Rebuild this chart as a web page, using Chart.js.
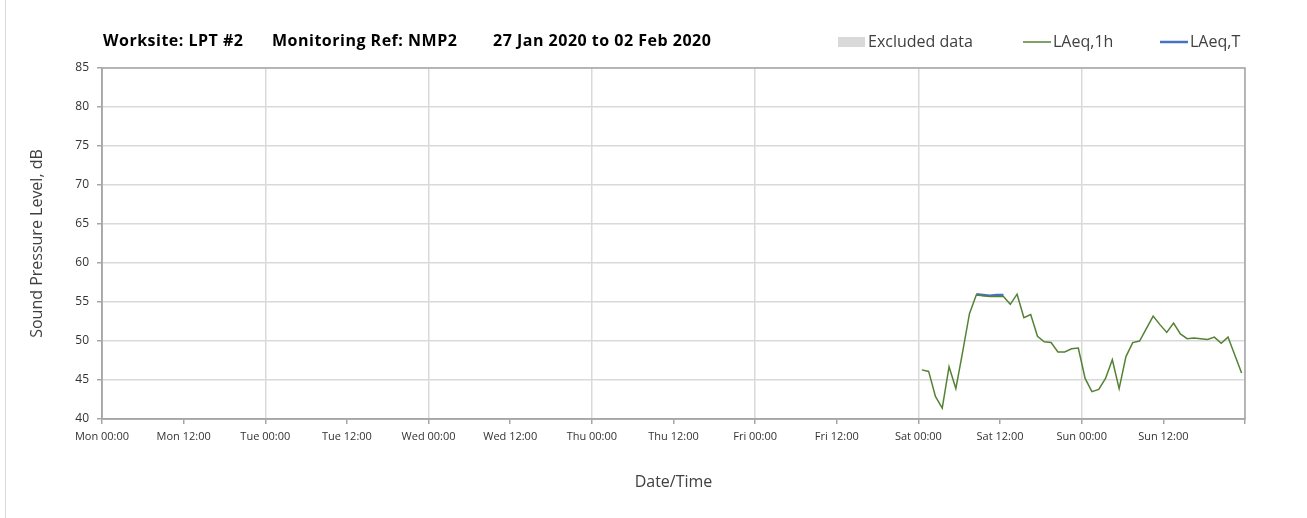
<!DOCTYPE html>
<html>
<head>
<meta charset="utf-8">
<script src="https://cdn.jsdelivr.net/npm/chart.js@4.4.1/dist/chart.umd.min.js"></script>
<style>
  html, body { margin: 0; padding: 0; background: #fff; }
  #wrap { width: 1307px; height: 518px; position: relative; }
</style>
</head>
<body>
<div id="wrap"><canvas id="noiseChart" width="1307" height="518"></canvas></div>
<script>
// hours since Mon 00:00 of the first hourly value (Sat 00:30)
const firstHour = 120.5;
const laeq1h = [
  46.3, 46.1, 42.9, 41.4, 46.7, 43.9, 48.6, 53.5, 55.9, 55.8, 55.7, 55.7,
  55.7, 54.7, 56.0, 53.0, 53.4, 50.6, 49.9, 49.8, 48.6, 48.6, 49.0, 49.1,
  45.2, 43.5, 43.8, 45.2, 47.6, 43.9, 48.0, 49.8, 50.0, 51.6, 53.2, 52.1,
  51.1, 52.3, 50.9, 50.3, 50.4, 50.3, 50.2, 50.5, 49.7, 50.5, 48.2, 45.9
];
const laeqTHours = [128.5, 129.5, 130.5, 131.5, 132.5];
const laeqT = [56.0, 55.9, 55.8, 55.9, 55.9];
const dayNames = ["Mon", "Tue", "Wed", "Thu", "Fri", "Sat", "Sun"];
const titleParts = ["Worksite: LPT #2", "Monitoring Ref: NMP2", "27 Jan 2020 to 02 Feb 2020"];

const series1h = laeq1h.map((v, i) => ({ x: firstHour + i, y: v }));
const seriesT = laeqT.map((v, i) => ({ x: laeqTHours[i], y: v }));

const FONT = "'Open Sans', sans-serif";

// heading + legend drawn in the top strip, plot box border
const decor = {
  id: "decor",
  beforeDraw(chart) {
    const ctx = chart.ctx;
    ctx.save();
    ctx.fillStyle = "#fff";
    ctx.fillRect(0, 0, chart.width, chart.height);
    ctx.strokeStyle = "#d9d9d9";
    ctx.lineWidth = 1;
    ctx.beginPath();
    ctx.moveTo(5.5, 0);
    ctx.lineTo(5.5, chart.height);
    ctx.stroke();
    ctx.restore();
  },
  afterDraw(chart) {
    const ctx = chart.ctx;
    const a = chart.chartArea;
    ctx.save();
    ctx.strokeStyle = "#a6a6a6";
    ctx.lineWidth = 1.5;
    ctx.strokeRect(a.left, a.top, a.right - a.left, a.bottom - a.top);

    ctx.fillStyle = "#000";
    ctx.font = "bold 16px " + FONT;
    ctx.letterSpacing = "0.5px";
    ctx.textBaseline = "middle";
    const xs = [103, 272, 493];
    titleParts.forEach((t, i) => ctx.fillText(t, xs[i], 41));
    ctx.letterSpacing = "0px";

    // legend
    const ds = chart.data.datasets;
    const items = [
      { x: 838, kind: "box" },
      { x: 1023, kind: "line" },
      { x: 1160, kind: "line" }
    ];
    ctx.font = "16px " + FONT;
    items.forEach((it, i) => {
      const d = ds[i];
      if (it.kind === "box") {
        ctx.fillStyle = d.backgroundColor;
        ctx.fillRect(it.x, 37, 27, 10);
      } else {
        ctx.strokeStyle = d.borderColor;
        ctx.lineWidth = d.borderWidth;
        ctx.beginPath();
        ctx.moveTo(it.x, 42);
        ctx.lineTo(it.x + 28, 42);
        ctx.stroke();
      }
      ctx.fillStyle = "#404040";
      ctx.fillText(d.label, it.x + 30, 42);
    });
    ctx.restore();
  }
};

new Chart(document.getElementById("noiseChart"), {
  type: "line",
  data: {
    datasets: [
      {
        label: "Excluded data",
        data: [],
        backgroundColor: "#d9d9d9",
        borderColor: "#d9d9d9"
      },
      {
        label: "LAeq,1h",
        data: series1h,
        borderColor: "#548235",
        backgroundColor: "#548235",
        borderWidth: 1.5,
        pointRadius: 0,
        tension: 0
      },
      {
        label: "LAeq,T",
        data: seriesT,
        borderColor: "#4472c4",
        backgroundColor: "#4472c4",
        borderWidth: 2.5,
        pointRadius: 0,
        tension: 0
      }
    ]
  },
  options: {
    responsive: false,
    animation: false,
    layout: { padding: { left: 24, right: 62, top: 68, bottom: 0 } },
    plugins: {
      legend: { display: false },
      title: { display: false },
      tooltip: { enabled: false }
    },
    scales: {
      x: {
        type: "linear",
        min: 0,
        max: 168,
        border: { color: "#a6a6a6", width: 1.5 },
        grid: {
          color: c => (c.tick && c.tick.value % 24 === 0 ? "#d9d9d9" : "transparent"),
          tickColor: "#a6a6a6",
          tickLength: 5,
          lineWidth: 1.5
        },
        ticks: {
          stepSize: 12,
          autoSkip: false,
          maxRotation: 0,
          padding: 6,
          color: "#333",
          font: { family: FONT, size: 11 },
          callback: v => (v >= 168 ? "" : dayNames[Math.floor(v / 24)] + " " + (v % 24 === 0 ? "00" : "12") + ":00")
        },
        title: {
          display: true,
          text: "Date/Time",
          color: "#404040",
          font: { family: FONT, size: 16 },
          padding: { top: 4, bottom: 26 }
        },
        afterFit: s => { s.height = 99; }
      },
      y: {
        min: 40,
        max: 85,
        border: { color: "#a6a6a6", width: 1.5 },
        grid: { color: "#d9d9d9", tickColor: "#a6a6a6", tickLength: 5, lineWidth: 1.5 },
        ticks: {
          stepSize: 5,
          padding: 8,
          color: "#333",
          font: { family: FONT, size: 12 }
        },
        title: {
          display: true,
          text: "Sound Pressure Level, dB",
          color: "#404040",
          font: { family: FONT, size: 16 },
          padding: { top: 4, bottom: 4 }
        },
        afterFit: s => { s.width = 78; }
      }
    }
  },
  plugins: [decor]
});
</script>
</body>
</html>
